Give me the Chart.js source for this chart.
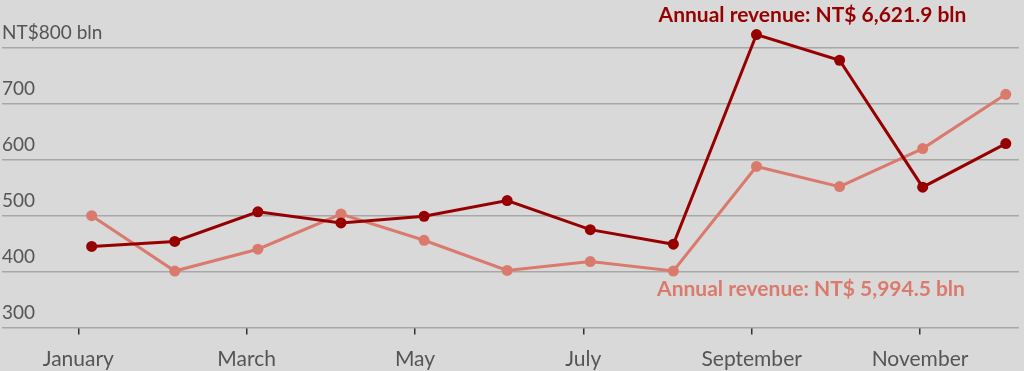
<!DOCTYPE html>
<html>
<head>
<meta charset="utf-8">
<script src="https://cdn.jsdelivr.net/npm/chart.js@4/dist/chart.umd.min.js"></script>
<style>
  html, body { margin: 0; padding: 0; background: #d9d9d9; }
  #wrap { width: 1024px; height: 371px; }
</style>
</head>
<body>
<div id="wrap"><canvas id="c" width="1024" height="371"></canvas></div>
<script>
// ---- data ----
const months = ['January','February','March','April','May','June','July','August','September','October','November','December'];
const rev2022 = [445, 454, 507, 487, 499, 527, 475, 449, 824, 778, 551, 629];
const rev2021 = [500, 401, 440, 503, 456, 402, 418, 401, 588, 552, 620, 717];
const xTickMonths = [0, 2, 4, 6, 8, 10];          // January, March, May, July, September, November
const yTicks = [300, 400, 500, 600, 700, 800];
const annual2022 = 'Annual revenue: NT$ 6,621.9 bln';
const annual2021 = 'Annual revenue: NT$ 5,994.5 bln';

const DARK = '#960000';
const LIGHT = '#da7a6c';
const FONT = 'Lato, "Source Sans Pro", "Open Sans", sans-serif';

const bgPlugin = {
  id: 'bg',
  beforeDraw(chart) {
    const ctx = chart.ctx;
    ctx.save();
    ctx.fillStyle = '#d9d9d9';
    ctx.fillRect(0, 0, chart.width, chart.height);
    ctx.restore();
  }
};

const notesPlugin = {
  id: 'notes',
  afterDatasetsDraw(chart) {
    const ctx = chart.ctx;
    ctx.save();
    ctx.font = 'bold 21px ' + FONT;
    ctx.textAlign = 'center';
    ctx.textBaseline = 'alphabetic';
    ctx.fillStyle = DARK;
    ctx.fillText(annual2022, 812.5, 21.5);
    ctx.fillStyle = LIGHT;
    ctx.fillText(annual2021, 811, 296);
    ctx.restore();
  }
};

new Chart(document.getElementById('c'), {
  type: 'line',
  data: {
    datasets: [
      {
        label: '2022',
        data: rev2022.map((v, i) => ({ x: i, y: v })),
        borderColor: DARK,
        backgroundColor: DARK,
        borderWidth: 3,
        pointRadius: 5.5,
        pointHoverRadius: 5.5,
        pointBorderWidth: 0,
        tension: 0,
        clip: false
      },
      {
        label: '2021',
        data: rev2021.map((v, i) => ({ x: i, y: v })),
        borderColor: LIGHT,
        backgroundColor: LIGHT,
        borderWidth: 3,
        pointRadius: 5.5,
        pointHoverRadius: 5.5,
        pointBorderWidth: 0,
        tension: 0,
        clip: false
      }
    ]
  },
  options: {
    responsive: false,
    animation: false,
    events: [],
    layout: { autoPadding: false, padding: { left: 2, right: 5, top: 20, bottom: -12.7 } },
    plugins: { legend: { display: false }, tooltip: { enabled: false } },
    scales: {
      x: {
        type: 'linear',
        display: false,
        min: -1.079,
        max: 11.159
      },
      xTicks: {
        type: 'linear',
        position: 'bottom',
        min: -0.9065,
        max: 11.176,
        afterBuildTicks(axis) { axis.ticks = xTickMonths.map(v => ({ value: v })); },
        ticks: {
          autoSkip: false,
          maxRotation: 0,
          padding: 12,
          color: '#555',
          font: { family: FONT, size: 21 },
          callback: (v) => months[v]
        },
        grid: {
          drawOnChartArea: false,
          drawTicks: true,
          tickLength: 7,
          color: '#333',
          lineWidth: 1.5
        },
        border: { display: false }
      },
      y: {
        type: 'linear',
        min: 300,
        max: 850,
        afterBuildTicks(axis) { axis.ticks = yTicks.map(v => ({ value: v })); },
        ticks: {
          mirror: true,
          padding: 0,
          labelOffset: -15,
          color: '#555',
          font: { family: FONT, size: 19 },
          callback: (v) => v === 800 ? 'NT$800 bln' : String(v)
        },
        grid: {
          drawTicks: false,
          color: '#a8a8a8',
          lineWidth: 1.5
        },
        border: { display: false }
      }
    }
  },
  plugins: [bgPlugin, notesPlugin]
});
</script>
</body>
</html>
